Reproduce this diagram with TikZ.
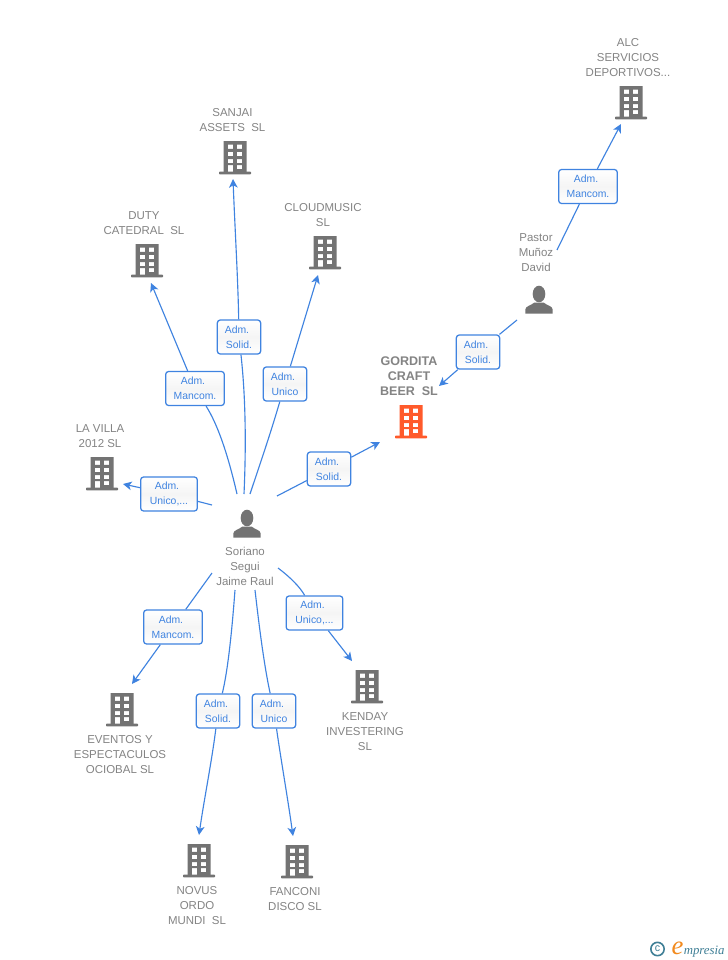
\documentclass[tikz,border=0pt]{standalone}
\usepackage{fontspec}
\setmainfont{Liberation Sans}
\newfontfamily\logofont{Liberation Serif}
\usetikzlibrary{arrows.meta}
\definecolor{lnk}{HTML}{3F83E0}
\definecolor{txt}{HTML}{848484}
\definecolor{ico}{HTML}{737373}
\definecolor{hot}{HTML}{FF5A2B}
\definecolor{teal}{HTML}{3F7F96}
\definecolor{orng}{HTML}{F28A1E}
\newcommand{\ad}{Adm.\hspace*{3pt}}
\tikzset{
  px/.style={x=0.75pt,y=-0.75pt},
  lbl/.style={inner sep=0pt,align=center,text=txt,yshift=-0.75pt,font=\fontsize{8.6pt}{11.25pt}\selectfont},
  hotlbl/.style={lbl,font=\fontsize{9.4pt}{11.25pt}\selectfont\bfseries},
  rel/.style={draw=lnk,line width=0.95pt,rounded corners=2.2pt,top color=white,bottom color=white,middle color=black!4,
     inner sep=0pt,align=center,text=lnk,font=\fontsize{7.8pt}{11.25pt}\selectfont,minimum height=25.5pt,
     execute at begin node={\rule{0pt}{9pt}}},
  relS/.style={rel,minimum width=32.5pt},
  relM/.style={rel,minimum width=44pt},
  relU/.style={rel,minimum width=42.5pt},
  wire/.style={draw=lnk,line width=0.85pt},
  arr/.style={wire,-{Stealth[length=6.5pt,width=6.5pt,inset=1.8pt]}},
  iconbox/.style={inner sep=0pt,minimum width=24pt,minimum height=25pt},
}
% building: centre x, top y, colour
\newcommand{\bld}[4]{%
  \node[iconbox] (#1) at (#2,#3+17) {};
  \begin{scope}[shift={(#2,#3)}]
    \fill[#4,even odd rule] (-11.5,0) rectangle (11.5,31)
      (-7.2,3.5) rectangle (-1.8,7.8) (1.8,3.5) rectangle (7.2,7.8)
      (-7.2,10.8) rectangle (-1.8,15.1) (1.8,10.8) rectangle (7.2,15.1)
      (-7.2,18.1) rectangle (-1.8,22.2) (1.8,18.1) rectangle (7.2,22.2)
      (-7.2,24) rectangle (-1.8,31) (1.8,24) rectangle (7.2,28.2);
    \fill[#4,rounded corners=0.6pt] (-16,30.6) rectangle (16,33.4);
  \end{scope}}
% person: centre x, top y
\newcommand{\psn}[3]{%
  \node[iconbox] (#1) at (#2,#3+14) {};
  \begin{scope}[shift={(#2,#3)}]
    \fill[ico] (0,8) ellipse (6.3 and 8.3);
    \fill[ico] (-13.7,27.5) -- (-13.7,23.5) .. controls (-13.5,20) and (-8,19.5) .. (-4.5,16.5)
       -- (4.5,16.5) .. controls (8,19.5) and (13.5,20) .. (13.7,23.5) -- (13.7,27.5) -- cycle;
  \end{scope}}
\begin{document}
\begin{tikzpicture}[px]
\useasboundingbox[fill=white] (0,0) rectangle (728,960);

% icons
\bld{alc}{631}{86}{ico}
\bld{sanjai}{235}{141}{ico}
\bld{duty}{147}{244}{ico}
\bld{cloud}{325}{236}{ico}
\bld{villa}{102}{457}{ico}
\bld{gordita}{411}{405}{hot}
\bld{eventos}{122}{693}{ico}
\bld{novus}{199}{844}{ico}
\bld{fanconi}{297}{845}{ico}
\bld{kenday}{367}{670}{ico}
\psn{soriano}{247}{510}
\psn{pastor}{539}{286}

% labels
\node[lbl] (talc) at (628,57) {ALC\\SERVICIOS\\DEPORTIVOS...};
\node[lbl] (tsanjai) at (232.5,119.5) {SANJAI\\ASSETS\ \ SL};
\node[lbl] (tduty) at (144,222) {DUTY\\CATEDRAL\ \ SL};
\node[lbl] (tcloud) at (323,214.5) {CLOUDMUSIC\\SL};
\node[lbl] (tvilla) at (100,435.5) {LA VILLA\\2012 SL};
\node[hotlbl] (tgordita) at (409,375.5) {GORDITA\\CRAFT\\BEER\ \ SL};
\node[lbl] (tpastor) at (536,252) {Pastor\\Muñoz\\David};
\node[lbl] (tsoriano) at (245,565) {Soriano\\Segui\\Jaime Raul};
\node[lbl] (teventos) at (120,754) {EVENTOS Y\\ESPECTACULOS\\OCIOBAL SL};
\node[lbl] (tnovus) at (197,905) {NOVUS\\ORDO\\MUNDI\ \ SL};
\node[lbl] (tfanconi) at (295,898.5) {FANCONI\\DISCO SL};
\node[lbl] (tkenday) at (365,731) {KENDAY\\INVESTERING\\SL};

% relation boxes
\node[relM] (bAlc) at (588,186.5) {\ad\\Mancom.};
\node[relS] (bPg) at (478,352) {\ad\\Solid.};
\node[relS] (bSg) at (329,469) {\ad\\Solid.};
\node[relS] (bSanjai) at (239,337) {\ad\\Solid.};
\node[relM] (bDuty) at (195,388.5) {\ad\\Mancom.};
\node[relS] (bCloud) at (285,384) {\ad\\Unico};
\node[relU] (bVilla) at (169,494) {\ad\\Unico,...};
\node[relM] (bEventos) at (173,627) {\ad\\Mancom.};
\node[relS] (bNovus) at (218,711) {\ad\\Solid.};
\node[relS] (bFanconi) at (274,711) {\ad\\Unico};
\node[relU] (bKenday) at (314.5,613) {\ad\\Unico,...};

% free ends
\coordinate (sVilla) at (212,505);
\coordinate (sDuty) at (237,494);
\coordinate (sSanjai) at (244,494);
\coordinate (sCloud) at (250,494);
\coordinate (sGordita) at (277,496);
\coordinate (sEventos) at (212,573);
\coordinate (sNovus) at (235,590);
\coordinate (sFanconi) at (255,590);
\coordinate (sKenday) at (278,568);
\coordinate (pDown) at (517,320);
\coordinate (pUp) at (557,250);
\coordinate (eAlc) at (621,124);
\coordinate (eDuty) at (151,283);
\coordinate (eSanjai) at (233,179);
\coordinate (eCloud) at (318,275);
\coordinate (eVilla) at (123,484);
\coordinate (eGordita) at (380,442);
\coordinate (ePg) at (439,386);
\coordinate (eEventos) at (132,684);
\coordinate (eNovus) at (199,835);
\coordinate (eFanconi) at (293,836);
\coordinate (eKenday) at (352,661);

% connectors
\draw[wire] (sVilla) -- (bVilla);
\draw[arr] (bVilla) -- (eVilla);
\draw[wire] (sDuty) .. controls (228,455) and (218,425) .. (bDuty);
\draw[arr] (bDuty) -- (eDuty);
\draw[wire] (sSanjai) .. controls (246,450) and (246,400) .. (bSanjai);
\draw[arr] (bSanjai) .. controls (238,280) and (235,230) .. (eSanjai);
\draw[wire] (sCloud) .. controls (262,458) and (270,435) .. (bCloud);
\draw[arr] (bCloud) -- (eCloud);
\draw[wire] (sGordita) -- (bSg);
\draw[arr] (bSg) -- (eGordita);
\draw[wire] (sEventos) -- (bEventos);
\draw[arr] (bEventos) -- (eEventos);
\draw[wire] (sNovus) .. controls (232,630) and (228,670) .. (bNovus);
\draw[arr] (bNovus) .. controls (212,760) and (204,800) .. (eNovus);
\draw[wire] (sFanconi) .. controls (259,625) and (264,665) .. (bFanconi);
\draw[arr] (bFanconi) .. controls (281,760) and (288,800) .. (eFanconi);
\draw[wire] (sKenday) .. controls (290,577) and (300,587) .. (bKenday);
\draw[arr] (bKenday) -- (eKenday);
\draw[wire] (pDown) -- (bPg);
\draw[arr] (bPg) -- (ePg);
\draw[wire] (pUp) -- (bAlc);
\draw[arr] (bAlc) -- (eAlc);

% logo
\node[circle,draw=teal,line width=1.2pt,inner sep=0pt,minimum size=10pt,text=teal,font=\fontsize{8pt}{8pt}\selectfont] (logoC) at (657.5,949) {c};
\node[inner sep=0pt,anchor=base,text=orng,font=\logofont\fontsize{20pt}{20pt}\selectfont\itshape] (logoE) at (677.5,954) {e};
\node[inner sep=0pt,anchor=base west,text=teal,font=\logofont\fontsize{9.6pt}{11pt}\selectfont\itshape] (logoT) at (683.5,954) {mpresia};
\end{tikzpicture}
\end{document}
